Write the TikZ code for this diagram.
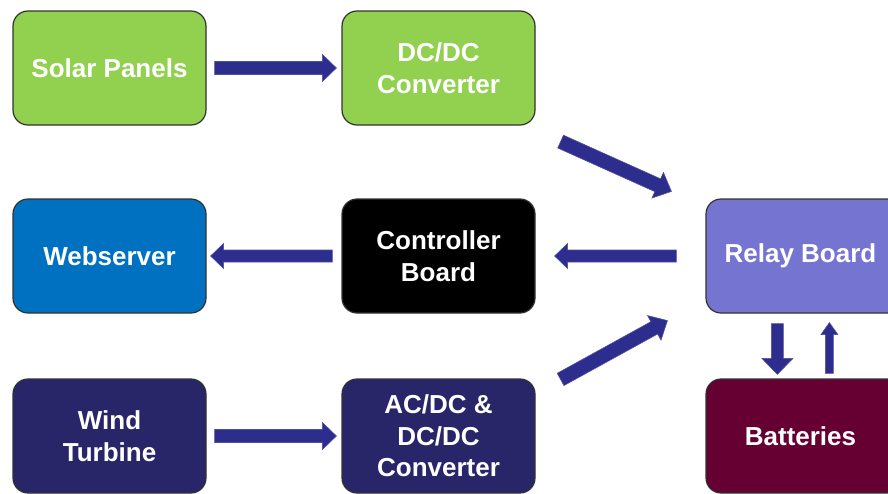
\documentclass[tikz,border=0pt]{standalone}
\usepackage{fontspec}
\setmainfont{Liberation Sans}
\usetikzlibrary{calc}
\definecolor{cgreen}{RGB}{146,208,80}
\definecolor{cblue}{RGB}{0,112,192}
\definecolor{cnavy}{RGB}{40,38,105}
\definecolor{crelay}{RGB}{118,116,209}
\definecolor{cbatt}{RGB}{102,0,51}
\definecolor{carrow}{RGB}{44,45,140}
\definecolor{carrowedge}{RGB}{80,80,160}
\definecolor{cborder}{RGB}{50,50,50}
\tikzset{
  box/.style={draw=cborder, line width=1.2pt, rounded corners=15pt,
    minimum width=193pt, minimum height=114pt, inner sep=0pt,
    text=white, align=center, font=\fontsize{26}{31.5}\selectfont\bfseries},
  blockarrow/.style={fill=carrow, draw=carrowedge, line width=0.6pt, line join=miter}
}
% start, end, half shaft, half head, head length
\newcommand{\blockarr}[5]{%
  \path coordinate (bah) at ($(#2)!#5!(#1)$);
  \filldraw[blockarrow] ($(#1)!#3!90:(#2)$) -- ($(bah)!#3!90:(#2)$) -- ($(bah)!#4!90:(#2)$)
    -- (#2) -- ($(bah)!#4!-90:(#2)$) -- ($(bah)!#3!-90:(#2)$) -- ($(#1)!#3!-90:(#2)$) -- cycle;
}
\begin{document}
\begin{tikzpicture}[x=1pt,y=1pt]
\useasboundingbox (0,0) rectangle (888,-493);
\clip (0,0) rectangle (888,-493);
\node[box, fill=cgreen] (solar) at (109.5,-68) {Solar Panels};
\node[box, fill=cgreen] (dcdc) at (438.5,-68) {DC/DC\\Converter};
\node[box, fill=cblue] (web) at (109.5,-256) {Webserver};
\node[box, fill=black] (ctrl) at (438.5,-256) {Controller\\Board};
\node[box, fill=cnavy] (wind) at (109.5,-436) {Wind\\Turbine};
\node[box, fill=cnavy] (acdc) at (438.5,-436) {AC/DC \&\\DC/DC\\Converter};
\node[box, fill=crelay, minimum width=196pt] (relay) at (804,-256) {Relay Board\hspace*{7pt}};
\node[box, fill=cbatt, minimum width=196pt] (batt) at (804,-436) {Batteries\hspace*{7pt}};

\coordinate (a1s) at ($(solar.east)+(8,0)$);
\coordinate (a1e) at ($(dcdc.west)+(-5,0)$);
\coordinate (a2s) at ($(dcdc.south east)+(25,-16)$);
\coordinate (a2e) at ($(relay.north west)+(-34,7)$);
\coordinate (a3s) at ($(relay.west)+(-29,0)$);
\coordinate (a3e) at ($(ctrl.east)+(19,0)$);
\coordinate (a4s) at ($(ctrl.west)+(-9,0)$);
\coordinate (a4e) at ($(web.east)+(4,0)$);
\coordinate (a5s) at ($(acdc.north east)+(25,-1)$);
\coordinate (a5e) at ($(relay.south west)+(-38,-7)$);
\coordinate (a6s) at ($(wind.east)+(8,0)$);
\coordinate (a6e) at ($(acdc.west)+(-5,0)$);
\coordinate (a7s) at ($(relay.south west)+(72,-10)$);
\coordinate (a7e) at ($(batt.north west)+(72,4)$);
\coordinate (a8s) at ($(batt.north west)+(124,5)$);
\coordinate (a8e) at ($(relay.south west)+(124,-9)$);

\blockarr{a1s}{a1e}{6.5pt}{13.5pt}{14pt}
\blockarr{a2s}{a2e}{7pt}{14pt}{15pt}
\blockarr{a3s}{a3e}{6pt}{12.5pt}{13pt}
\blockarr{a4s}{a4e}{6pt}{12.5pt}{13pt}
\blockarr{a5s}{a5e}{7pt}{14pt}{15pt}
\blockarr{a6s}{a6e}{6.5pt}{13.5pt}{14pt}
\blockarr{a7s}{a7e}{6pt}{15.5pt}{16pt}
\blockarr{a8s}{a8e}{4pt}{8.5pt}{12pt}
\end{tikzpicture}
\end{document}
